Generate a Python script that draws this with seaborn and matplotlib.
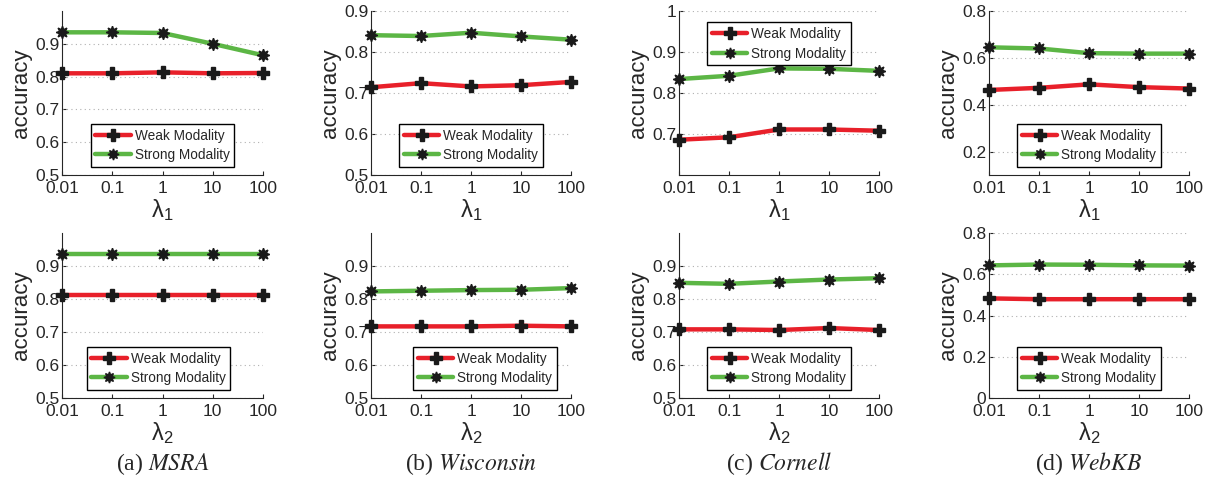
import numpy as np
import pandas as pd
import seaborn as sns
import matplotlib.pyplot as plt

lambdas = [0.01, 0.1, 1, 10, 100]
lambda_labels = ["0.01", "0.1", "1", "10", "100"]
datasets = ["MSRA", "Wisconsin", "Cornell", "WebKB"]
letters = ["a", "b", "c", "d"]

# sweep over lambda_1 (top row)
msra_l1_weak = [0.810, 0.810, 0.813, 0.810, 0.811]
msra_l1_strong = [0.935, 0.935, 0.933, 0.900, 0.865]
wisc_l1_weak = [0.714, 0.724, 0.716, 0.719, 0.727]
wisc_l1_strong = [0.841, 0.839, 0.847, 0.838, 0.830]
corn_l1_weak = [0.686, 0.692, 0.711, 0.711, 0.708]
corn_l1_strong = [0.834, 0.842, 0.860, 0.859, 0.854]
webkb_l1_weak = [0.463, 0.472, 0.487, 0.475, 0.469]
webkb_l1_strong = [0.645, 0.640, 0.620, 0.618, 0.618]

# sweep over lambda_2 (bottom row)
msra_l2_weak = [0.813, 0.813, 0.813, 0.813, 0.813]
msra_l2_strong = [0.937, 0.937, 0.937, 0.937, 0.937]
wisc_l2_weak = [0.717, 0.717, 0.717, 0.719, 0.717]
wisc_l2_strong = [0.823, 0.825, 0.827, 0.828, 0.833]
corn_l2_weak = [0.708, 0.708, 0.706, 0.712, 0.706]
corn_l2_strong = [0.849, 0.846, 0.853, 0.859, 0.863]
webkb_l2_weak = [0.483, 0.479, 0.479, 0.479, 0.479]
webkb_l2_strong = [0.643, 0.647, 0.646, 0.643, 0.642]

top_weak = [msra_l1_weak, wisc_l1_weak, corn_l1_weak, webkb_l1_weak]
top_strong = [msra_l1_strong, wisc_l1_strong, corn_l1_strong, webkb_l1_strong]
bot_weak = [msra_l2_weak, wisc_l2_weak, corn_l2_weak, webkb_l2_weak]
bot_strong = [msra_l2_strong, wisc_l2_strong, corn_l2_strong, webkb_l2_strong]

top_ylim = [(0.5, 1.0), (0.5, 0.9), (0.6, 1.0), (0.1, 0.8)]
top_yticks = [[0.5, 0.6, 0.7, 0.8, 0.9], [0.5, 0.6, 0.7, 0.8, 0.9],
              [0.7, 0.8, 0.9, 1.0], [0.2, 0.4, 0.6, 0.8]]
bot_ylim = [(0.5, 1.0), (0.5, 1.0), (0.5, 1.0), (0.0, 0.8)]
bot_yticks = [[0.5, 0.6, 0.7, 0.8, 0.9]] * 3 + [[0, 0.2, 0.4, 0.6, 0.8]]

sns.set_style("ticks")
plt.rcParams["font.family"] = ["Liberation Sans", "DejaVu Sans"]
plt.rcParams["mathtext.fontset"] = "stix"

W, H = 1211, 487
fig = plt.figure(figsize=(W / 100, H / 100), dpi=100)

col_x = [(62, 263), (371, 571), (679, 879), (989, 1189)]
row_y = [(11, 175), (233, 398)]

palette = {"Weak Modality": "#e8202a", "Strong Modality": "#5cb645"}
markers = {"Weak Modality": "P", "Strong Modality": (8, 1, 0)}


def tick_fmt(v):
    if v == 0:
        return "0"
    if v == 1:
        return "1"
    return f"{v:.1f}"


def draw_panel(rect, weak, strong, ylim, yticks, sub, leg_anchor):
    ax = fig.add_axes(rect)
    x = np.log10(lambdas)
    df = pd.DataFrame({
        "x": np.concatenate([x, x]),
        "acc": weak + strong,
        "series": ["Weak Modality"] * 5 + ["Strong Modality"] * 5,
    })
    sns.lineplot(data=df, x="x", y="acc", hue="series", style="series",
                 palette=palette, markers=markers, dashes=False, ax=ax,
                 linewidth=3.2, markersize=9, markeredgewidth=1,
                 markeredgecolor="#1a1a1a", markerfacecolor="#1a1a1a",
                 clip_on=False, zorder=3)
    ax.set_xlim(-2, 2)
    ax.set_ylim(*ylim)
    ax.set_xticks(x)
    ax.set_xticklabels(lambda_labels, fontsize=12.5)
    ax.set_yticks(yticks)
    ax.set_yticklabels([tick_fmt(v) for v in yticks], fontsize=12.5)
    ax.tick_params(direction="in", length=3, colors="#262626")
    ax.tick_params(axis="x", pad=4)
    ax.tick_params(axis="y", pad=2)
    for v in yticks:
        ax.axhline(v, color="#b0b0b0", lw=0.8, ls=(0, (1, 3)), zorder=1)
    sns.despine(ax=ax)
    ax.set_xlabel(r"$\mathregular{\lambda_%s}$" % sub, fontsize=17, labelpad=1)
    ax.set_ylabel("accuracy", fontsize=16, labelpad=2)

    handles, labels = ax.get_legend_handles_labels()
    for h in handles:
        h.set_linewidth(3.2)
        h.set_markeredgecolor("#1a1a1a")
        h.set_markerfacecolor("#1a1a1a")
        h.set_markersize(8)
        h.set_markeredgewidth(1)
    loc = "upper center" if leg_anchor[1] > 0.5 else "lower center"
    leg = ax.legend(handles, labels, loc=loc, bbox_to_anchor=leg_anchor,
                    fontsize=9.8, frameon=True, fancybox=False,
                    edgecolor="black", framealpha=1, handlelength=2.6,
                    borderpad=0.35, labelspacing=0.4, handletextpad=0.3,
                    borderaxespad=0)
    leg.get_frame().set_linewidth(1.0)
    return ax


top_anchor = [(0.5, 0.05), (0.5, 0.05), (0.5, 0.93), (0.5, 0.05)]
bot_anchor = [(0.48, 0.05), (0.57, 0.05), (0.5, 0.05), (0.5, 0.05)]

for i in range(4):
    x0, x1 = col_x[i]
    for r, (weak, strong, ylim, yt, sub, anchors) in enumerate([
        (top_weak[i], top_strong[i], top_ylim[i], top_yticks[i], "1", top_anchor),
        (bot_weak[i], bot_strong[i], bot_ylim[i], bot_yticks[i], "2", bot_anchor),
    ]):
        y0, y1 = row_y[r]
        rect = [x0 / W, 1 - y1 / H, (x1 - x0) / W, (y1 - y0) / H]
        draw_panel(rect, weak, strong, ylim, yt, sub, anchors[i])
    cx = (x0 + x1) / 2 / W
    fig.text(cx, 1 - 464 / H, r"(%s) $\mathit{%s}$" % (letters[i], datasets[i]),
             ha="center", va="center", fontsize=17,
             family=["Liberation Serif", "DejaVu Serif"])

fig.savefig("out.png", dpi=100)
